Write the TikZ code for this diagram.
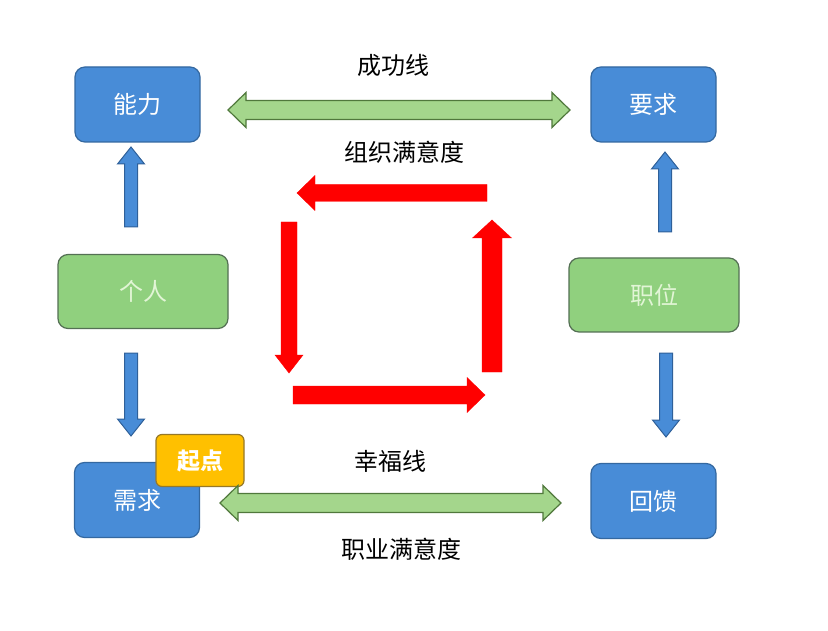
\documentclass[tikz,border=0pt]{standalone}
\usepackage{fontspec}
\newfontfamily\cjk{Noto Sans CJK SC}
\usetikzlibrary{calc}
\definecolor{boxblue}{RGB}{72,140,215}
\definecolor{boxblueedge}{RGB}{52,104,160}
\definecolor{boxgreen}{RGB}{144,208,126}
\definecolor{boxgreenedge}{RGB}{84,112,84}
\definecolor{greentext}{RGB}{226,245,214}
\definecolor{startyellow}{RGB}{255,192,0}
\definecolor{startedge}{RGB}{150,120,40}
\definecolor{arrgreen}{RGB}{164,214,140}
\definecolor{arrgreenedge}{RGB}{80,120,60}
\definecolor{arrblue}{RGB}{72,140,215}
\definecolor{arrblueedge}{RGB}{47,96,153}
\definecolor{arrred}{RGB}{255,0,0}
\tikzset{
  bluebox/.style={draw=boxblueedge, line width=1.2pt, fill=boxblue, rounded corners=10pt,
    minimum width=125pt, minimum height=75pt, text=white, font=\cjk\fontsize{24}{24}\selectfont, inner sep=0pt},
  greenbox/.style={draw=boxgreenedge, line width=1.2pt, fill=boxgreen, rounded corners=10pt,
    minimum width=170pt, minimum height=74pt, text=greentext, font=\cjk\fontsize{24}{24}\selectfont, inner sep=0pt},
  startbox/.style={draw=startedge, line width=1.2pt, fill=startyellow, rounded corners=6pt,
    minimum width=88pt, minimum height=52pt, text=white, font=\cjk\bfseries\fontsize{23}{23}\selectfont, inner sep=0pt},
  lbl/.style={font=\cjk\fontsize{24}{24}\selectfont, text=black, inner sep=0pt},
  bluearrow/.style={draw=arrblueedge, line width=1pt, fill=arrblue},
  greenarrow/.style={draw=arrgreenedge, line width=1.2pt, fill=arrgreen},
  redarrow/.style={fill=arrred, draw=arrred, line width=0.4pt},
}
% single block arrow: #1 style, #2 start, #3 end, #4 shaft half width, #5 head half width, #6 head length
\newcommand{\blkarrow}[6]{%
  \path[#1]
    coordinate (h@) at ($(#3)!#6!(#2)$)
    ($(#2)!#4!90:(#3)$) -- ($(h@)!#4!-90:(#2)$) -- ($(h@)!#5!-90:(#2)$) -- (#3)
    -- ($(h@)!#5!90:(#2)$) -- ($(h@)!#4!90:(#2)$) -- ($(#2)!#4!-90:(#3)$) -- cycle;}
% double block arrow
\newcommand{\dblarrow}[6]{%
  \path[#1]
    coordinate (ha@) at ($(#2)!#6!(#3)$)
    coordinate (hb@) at ($(#3)!#6!(#2)$)
    (#2) -- ($(ha@)!#5!90:(#3)$) -- ($(ha@)!#4!90:(#3)$) -- ($(hb@)!#4!-90:(#2)$)
    -- ($(hb@)!#5!-90:(#2)$) -- (#3) -- ($(hb@)!#5!90:(#2)$) -- ($(hb@)!#4!90:(#2)$)
    -- ($(ha@)!#4!-90:(#3)$) -- ($(ha@)!#5!-90:(#3)$) -- cycle;}
\begin{document}
\begin{tikzpicture}[x=1pt,y=-1pt]
\useasboundingbox[fill=white] (0,0) rectangle (828,631);
% boxes
\node[bluebox] (nengli) at (137.5,104.5) {能力};
\node[bluebox] (yaoqiu) at (653.5,104.5) {要求};
\node[bluebox] (xuqiu) at (137,500) {需求};
\node[bluebox] (huikui) at (653.5,501) {回馈};
\node[greenbox] (geren) at (143,291.5) {个人};
\node[greenbox] (zhiwei) at (654,295) {职位};
\node[startbox] (qidian) at (200,460.5) {起点};
% labels
\node[lbl] (l1) at (393,65) {成功线};
\node[lbl] (l2) at (404,152) {组织满意度};
\node[lbl] (l3) at (390,461) {幸福线};
\node[lbl] (l4) at (401,549) {职业满意度};
% arrow end points
\coordinate (a1s) at (131,227);
\coordinate (a1e) at (131,147);
\coordinate (a2s) at (131,353);
\coordinate (a2e) at (131,436);
\coordinate (a3s) at (665,232);
\coordinate (a3e) at (665,152);
\coordinate (a4s) at (666,353);
\coordinate (a4e) at (666,437);
\coordinate (g1a) at (228,110);
\coordinate (g1b) at (570,110);
\coordinate (g2a) at (220,503);
\coordinate (g2b) at (561,503);
\coordinate (r1s) at (487,193);
\coordinate (r1e) at (297,193);
\coordinate (r2s) at (289,222);
\coordinate (r2e) at (289,373);
\coordinate (r3s) at (293,395);
\coordinate (r3e) at (485,395);
\coordinate (r4s) at (492,372);
\coordinate (r4e) at (492,220);
% blue arrows
\blkarrow{bluearrow}{a1s}{a1e}{6.5pt}{13.5pt}{17pt}
\blkarrow{bluearrow}{a2s}{a2e}{6.5pt}{13.5pt}{17pt}
\blkarrow{bluearrow}{a3s}{a3e}{6.5pt}{13.5pt}{17pt}
\blkarrow{bluearrow}{a4s}{a4e}{6.5pt}{13.5pt}{17pt}
% green double arrows
\dblarrow{greenarrow}{g1a}{g1b}{9.5pt}{17.5pt}{18pt}
\dblarrow{greenarrow}{g2a}{g2b}{9.5pt}{17.5pt}{18pt}
% red cycle arrows
\blkarrow{redarrow}{r1s}{r1e}{8.5pt}{17.5pt}{18pt}
\blkarrow{redarrow}{r2s}{r2e}{8pt}{14pt}{18pt}
\blkarrow{redarrow}{r3s}{r3e}{9pt}{17.5pt}{18pt}
\blkarrow{redarrow}{r4s}{r4e}{10pt}{19.5pt}{18pt}
\end{tikzpicture}
\end{document}
